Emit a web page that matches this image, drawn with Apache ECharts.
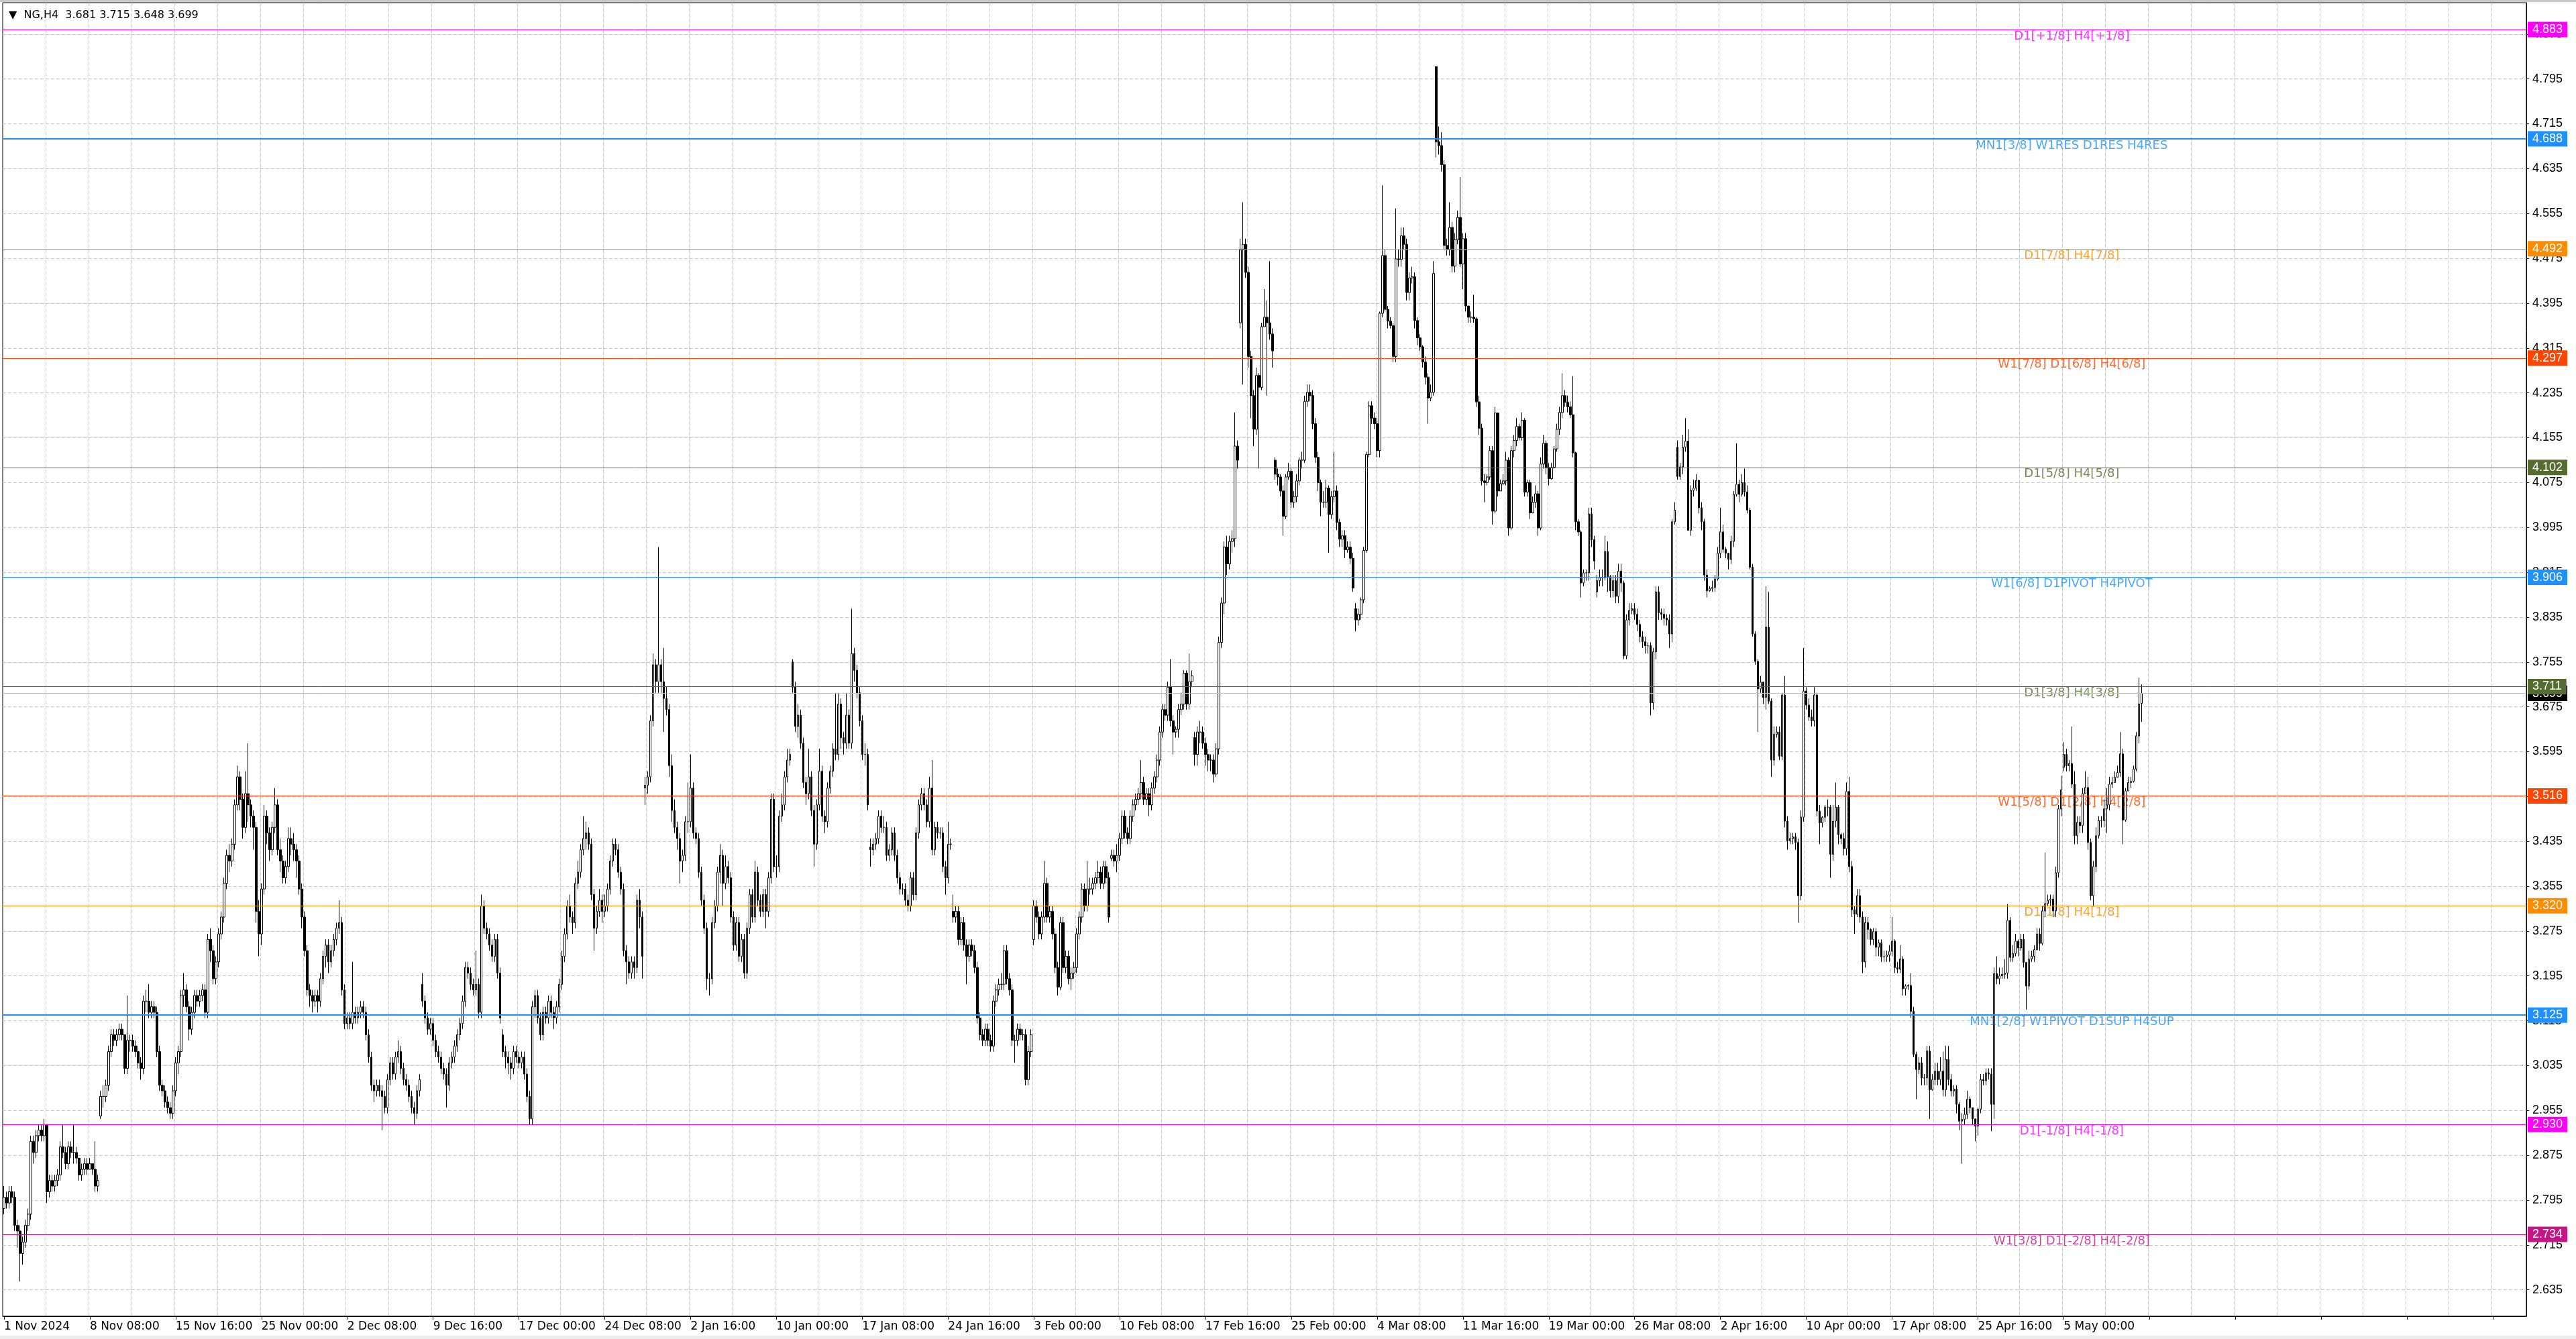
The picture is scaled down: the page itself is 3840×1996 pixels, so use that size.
<!DOCTYPE html>
<html>
<head>
    <meta charset="utf-8">
    <script src="https://cdn.jsdelivr.net/npm/echarts@6/dist/echarts.min.js"></script>
    <style>
        html, body { margin: 0; padding: 0; background: #fff; }
        #chart { width: 3840px; height: 1996px; }
    </style>
</head>
<body>
    <div id="chart"></div>
    <script type="text/javascript">
        // NG H4 bars (close / high / low per bar)
        var closes = [
            2.80,2.79,2.81,2.80,2.75,2.74,2.70,2.72,2.75,2.77,2.90,2.88,2.91,2.92,2.91,2.93,
            2.81,2.83,2.82,2.83,2.84,2.89,2.88,2.86,2.89,2.88,2.88,2.87,2.84,2.85,2.86,2.85,
            2.86,2.85,2.82,2.83,2.98,2.98,3.00,3.06,3.09,3.08,3.09,3.10,3.09,3.03,3.08,3.08,
            3.07,3.06,3.04,3.03,3.15,3.15,3.13,3.14,3.13,3.06,3.00,2.99,2.97,2.96,2.95,2.99,
            3.04,3.06,3.16,3.17,3.14,3.10,3.13,3.16,3.15,3.16,3.17,3.13,3.26,3.24,3.19,3.22,
            3.27,3.30,3.36,3.41,3.40,3.43,3.50,3.55,3.51,3.46,3.52,3.50,3.48,3.46,3.31,3.27,
            3.35,3.48,3.45,3.42,3.46,3.50,3.42,3.40,3.37,3.39,3.44,3.43,3.42,3.40,3.35,3.30,
            3.24,3.17,3.16,3.15,3.16,3.15,3.19,3.23,3.25,3.22,3.24,3.26,3.28,3.29,3.17,3.11,
            3.12,3.11,3.13,3.12,3.13,3.14,3.13,3.09,3.05,3.00,2.99,3.00,2.99,2.98,2.96,3.01,
            3.04,3.02,3.05,3.06,3.03,3.01,3.00,2.98,2.96,2.95,2.99,3.01,3.15,3.12,3.10,3.11,
            3.08,3.06,3.05,3.03,3.02,3.00,3.04,3.05,3.07,3.09,3.11,3.15,3.21,3.20,3.18,3.17,
            3.18,3.13,3.32,3.28,3.27,3.25,3.23,3.26,3.20,3.12,3.06,3.05,3.04,3.03,3.06,3.05,
            3.04,3.05,3.02,2.98,2.94,3.14,3.16,3.12,3.09,3.13,3.12,3.15,3.13,3.12,3.14,3.18,
            3.23,3.27,3.32,3.30,3.29,3.36,3.38,3.42,3.44,3.45,3.43,3.34,3.28,3.31,3.33,3.31,
            3.32,3.35,3.40,3.43,3.42,3.38,3.35,3.24,3.22,3.20,3.22,3.21,3.33,3.30,3.23,3.535,
            3.55,3.65,3.75,3.72,3.75,3.72,3.69,3.67,3.57,3.49,3.46,3.44,3.40,3.41,3.47,3.47,
            3.53,3.45,3.44,3.38,3.33,3.28,3.19,3.19,3.29,3.32,3.38,3.41,3.36,3.39,3.37,3.30,
            3.25,3.29,3.23,3.26,3.20,3.28,3.34,3.30,3.38,3.33,3.31,3.34,3.31,3.37,3.51,3.39,
            3.39,3.48,3.50,3.55,3.58,3.59,3.71,3.64,3.66,3.61,3.54,3.52,3.55,3.49,3.43,3.50,
            3.56,3.48,3.47,3.53,3.56,3.60,3.59,3.68,3.62,3.61,3.66,3.61,3.77,3.74,3.70,3.65,
            3.59,3.59,3.50,3.42,3.43,3.44,3.48,3.46,3.46,3.41,3.42,3.45,3.41,3.37,3.35,3.35,
            3.33,3.32,3.37,3.34,3.45,3.50,3.52,3.50,3.47,3.53,3.42,3.46,3.45,3.45,3.39,3.37,
            3.43,3.43,3.30,3.31,3.26,3.29,3.25,3.23,3.25,3.24,3.21,3.12,3.09,3.08,3.10,3.08,
            3.07,3.15,3.17,3.18,3.18,3.24,3.19,3.17,3.08,3.08,3.10,3.09,3.09,3.01,3.06,3.09,
            3.32,3.30,3.27,3.30,3.36,3.30,3.31,3.27,3.21,3.175,3.29,3.21,3.23,3.19,3.20,3.21,
            3.27,3.30,3.35,3.32,3.35,3.35,3.36,3.37,3.38,3.36,3.39,3.37,3.30,3.41,3.40,3.41,
            3.44,3.48,3.45,3.44,3.48,3.50,3.51,3.52,3.54,3.51,3.52,3.50,3.53,3.55,3.58,3.63,
            3.67,3.66,3.71,3.65,3.63,3.635,3.67,3.68,3.735,3.68,3.72,3.73,3.59,3.63,3.63,3.61,
            3.59,3.58,3.58,3.555,3.60,3.79,3.86,3.96,3.93,3.97,3.975,4.14,4.115,4.49,4.50,4.45,
            4.30,4.23,4.17,4.266,4.245,4.353,4.37,4.36,4.34,4.31,4.09,4.085,4.06,4.015,4.085,4.095,
            4.04,4.05,4.078,4.115,4.115,4.22,4.236,4.23,4.18,4.12,4.075,4.04,4.04,4.065,4.018,4.05,
            4.06,4.004,3.974,3.98,3.955,3.96,3.94,3.887,3.83,3.84,3.866,3.954,4.125,4.212,4.19,4.18,
            4.132,4.377,4.48,4.384,4.363,4.355,4.30,4.474,4.473,4.515,4.50,4.414,4.44,4.442,4.364,4.333,
            4.317,4.29,4.263,4.226,4.236,4.448,4.683,4.676,4.642,4.498,4.49,4.53,4.461,4.508,4.548,4.465,
            4.51,4.39,4.37,4.37,4.367,4.219,4.172,4.078,4.075,4.085,4.132,4.024,4.199,4.06,4.073,4.078,
            4.115,3.994,4.132,4.15,4.175,4.155,4.186,4.058,4.075,4.021,4.04,4.055,3.994,4.108,4.145,4.102,
            4.082,4.102,4.135,4.17,4.20,4.23,4.218,4.21,4.196,4.128,4.005,3.987,3.896,3.914,3.914,4.019,
            3.973,3.935,3.90,3.905,3.905,3.952,3.907,3.882,3.90,3.872,3.917,3.896,3.766,3.83,3.847,3.85,
            3.84,3.822,3.80,3.791,3.784,3.784,3.682,3.773,3.88,3.843,3.84,3.833,3.83,3.805,4.005,4.026,
            4.086,4.103,4.138,4.149,3.99,4.061,4.065,4.079,4.03,4.005,3.91,3.882,3.886,3.888,3.903,3.949,
            3.987,3.956,3.949,3.938,3.97,4.054,4.072,4.054,4.075,4.058,4.026,3.924,3.805,3.756,3.707,3.719,
            3.692,3.817,3.685,3.58,3.626,3.63,3.587,3.696,3.471,3.436,3.44,3.443,3.433,3.338,3.478,3.703,
            3.678,3.657,3.65,3.696,3.489,3.468,3.478,3.496,3.496,3.412,3.471,3.496,3.447,3.44,3.422,3.524,
            3.39,3.313,3.305,3.338,3.30,3.22,3.29,3.278,3.26,3.274,3.246,3.254,3.229,3.229,3.232,3.239,
            3.257,3.21,3.207,3.225,3.172,3.177,3.178,3.132,3.055,3.028,3.04,3.013,3.013,3.061,2.992,3.01,
            3.025,3.01,3.025,2.992,3.046,3.01,2.99,2.993,2.966,2.936,2.939,2.948,2.975,2.96,2.94,2.927,
            2.957,3.01,3.008,3.022,3.02,2.966,3.199,3.19,3.195,3.198,3.20,3.294,3.228,3.235,3.257,3.245,
            3.26,3.219,3.177,3.225,3.23,3.242,3.27,3.253,3.311,3.324,3.33,3.332,3.311,3.379,3.493,3.527,
            3.59,3.57,3.574,3.537,3.445,3.469,3.463,3.52,3.531,3.433,3.338,3.39,3.445,3.472,3.472,3.493,
            3.50,3.537,3.54,3.549,3.558,3.591,3.473,3.525,3.54,3.542,3.564,3.623,3.68,3.699
        ];
        var highs = [
            2.82,2.81,2.82,2.82,2.81,2.76,2.75,2.73,2.76,2.78,2.91,2.91,2.92,2.93,2.93,2.94,
            2.93,2.84,2.84,2.84,2.85,2.90,2.93,2.89,2.90,2.90,2.93,2.89,2.87,2.86,2.87,2.87,
            2.87,2.86,2.90,2.84,2.99,3.00,3.01,3.07,3.10,3.10,3.10,3.11,3.11,3.09,3.16,3.09,
            3.09,3.08,3.07,3.05,3.16,3.17,3.18,3.15,3.15,3.14,3.07,3.01,3.00,2.98,2.97,3.00,
            3.05,3.07,3.17,3.20,3.18,3.15,3.14,3.17,3.17,3.17,3.18,3.18,3.27,3.28,3.25,3.23,
            3.28,3.31,3.37,3.42,3.43,3.44,3.51,3.57,3.56,3.52,3.56,3.61,3.51,3.49,3.47,3.33,
            3.36,3.50,3.49,3.46,3.47,3.53,3.51,3.44,3.41,3.40,3.46,3.46,3.45,3.43,3.41,3.36,
            3.31,3.25,3.18,3.17,3.17,3.17,3.20,3.24,3.26,3.26,3.25,3.27,3.29,3.33,3.30,3.18,
            3.13,3.13,3.22,3.14,3.14,3.15,3.15,3.14,3.10,3.06,3.01,3.01,3.01,3.00,2.99,3.02,
            3.05,3.05,3.06,3.08,3.07,3.04,3.02,3.01,2.99,2.97,3.00,3.02,3.20,3.16,3.13,3.12,
            3.12,3.09,3.07,3.06,3.04,3.03,3.05,3.06,3.08,3.10,3.12,3.16,3.22,3.22,3.21,3.19,
            3.24,3.19,3.34,3.33,3.29,3.28,3.26,3.27,3.27,3.21,3.10,3.07,3.06,3.05,3.07,3.07,
            3.06,3.06,3.06,3.03,2.99,3.15,3.17,3.17,3.13,3.14,3.14,3.16,3.16,3.14,3.15,3.19,
            3.24,3.28,3.33,3.34,3.31,3.37,3.40,3.43,3.48,3.47,3.46,3.44,3.35,3.32,3.35,3.34,
            3.34,3.36,3.41,3.44,3.44,3.43,3.39,3.36,3.25,3.23,3.23,3.23,3.34,3.35,3.31,3.55,
            3.56,3.66,3.77,3.76,3.96,3.76,3.78,3.71,3.68,3.59,3.51,3.47,3.45,3.42,3.48,3.54,
            3.59,3.54,3.46,3.45,3.39,3.34,3.29,3.20,3.30,3.33,3.39,3.43,3.42,3.41,3.40,3.38,
            3.31,3.30,3.30,3.27,3.27,3.29,3.35,3.35,3.40,3.39,3.34,3.35,3.35,3.38,3.52,3.52,
            3.41,3.49,3.52,3.56,3.60,3.60,3.76,3.72,3.68,3.67,3.62,3.55,3.60,3.56,3.50,3.51,
            3.60,3.57,3.49,3.54,3.57,3.61,3.70,3.70,3.69,3.63,3.70,3.67,3.85,3.78,3.75,3.71,
            3.66,3.61,3.60,3.44,3.44,3.45,3.49,3.49,3.48,3.47,3.43,3.46,3.46,3.42,3.38,3.36,
            3.36,3.34,3.38,3.38,3.46,3.51,3.53,3.53,3.51,3.55,3.58,3.47,3.47,3.46,3.46,3.40,
            3.47,3.44,3.34,3.32,3.32,3.30,3.30,3.26,3.26,3.26,3.25,3.22,3.13,3.10,3.11,3.11,
            3.09,3.16,3.18,3.19,3.20,3.25,3.25,3.20,3.18,3.09,3.11,3.11,3.10,3.10,3.07,3.10,
            3.33,3.33,3.31,3.31,3.40,3.37,3.32,3.32,3.28,3.22,3.30,3.30,3.24,3.24,3.21,3.22,
            3.28,3.31,3.36,3.36,3.40,3.37,3.37,3.38,3.40,3.39,3.40,3.40,3.38,3.42,3.42,3.43,
            3.45,3.49,3.49,3.46,3.49,3.51,3.52,3.53,3.58,3.55,3.53,3.53,3.54,3.56,3.59,3.64,
            3.68,3.68,3.72,3.76,3.66,3.64,3.68,3.70,3.74,3.74,3.77,3.74,3.63,3.64,3.65,3.64,
            3.62,3.60,3.59,3.59,3.61,3.80,3.87,3.97,3.98,3.98,3.99,4.20,4.15,4.51,4.575,4.51,
            4.46,4.31,4.24,4.28,4.27,4.36,4.42,4.40,4.47,4.35,4.12,4.10,4.09,4.07,4.09,4.11,
            4.10,4.06,4.09,4.12,4.13,4.23,4.25,4.25,4.24,4.19,4.13,4.08,4.06,4.08,4.07,4.06,
            4.13,4.07,4.01,3.99,3.99,3.97,3.97,3.95,3.86,3.85,3.87,3.96,4.13,4.22,4.22,4.20,
            4.19,4.38,4.605,4.49,4.39,4.37,4.36,4.564,4.49,4.53,4.53,4.51,4.45,4.46,4.45,4.37,
            4.34,4.32,4.30,4.27,4.25,4.47,4.817,4.71,4.70,4.65,4.51,4.575,4.54,4.52,4.56,4.62,
            4.52,4.52,4.39,4.38,4.41,4.37,4.23,4.18,4.09,4.09,4.14,4.14,4.21,4.20,4.08,4.09,
            4.13,4.12,4.14,4.16,4.19,4.18,4.20,4.19,4.08,4.08,4.05,4.07,4.06,4.12,4.16,4.15,
            4.11,4.11,4.14,4.18,4.21,4.27,4.24,4.23,4.22,4.265,4.13,4.01,3.99,3.92,3.92,4.03,
            4.03,3.98,3.91,3.92,3.92,3.98,3.97,3.91,3.91,3.91,3.93,3.93,3.90,3.84,3.86,3.86,
            3.86,3.85,3.83,3.81,3.80,3.79,3.79,3.78,3.89,3.89,3.85,3.85,3.84,3.84,4.01,4.04,
            4.15,4.11,4.16,4.19,4.17,4.07,4.08,4.09,4.08,4.04,4.01,3.92,3.89,3.90,3.91,3.96,
            4.03,4.00,3.96,3.95,3.98,4.06,4.145,4.08,4.09,4.10,4.07,4.03,3.93,3.81,3.76,3.73,
            3.72,3.89,3.88,3.69,3.64,3.64,3.64,3.70,3.73,3.48,3.45,3.45,3.45,3.44,3.49,3.78,
            3.71,3.69,3.67,3.71,3.70,3.50,3.48,3.50,3.51,3.50,3.50,3.54,3.50,3.45,3.45,3.54,
            3.55,3.40,3.32,3.35,3.35,3.31,3.30,3.30,3.28,3.28,3.28,3.26,3.26,3.24,3.24,3.25,
            3.30,3.26,3.22,3.25,3.23,3.18,3.18,3.20,3.14,3.06,3.05,3.05,3.02,3.07,3.07,3.02,
            3.04,3.04,3.05,3.06,3.07,3.07,3.02,3.00,3.00,2.97,2.95,2.96,2.99,2.98,2.96,2.94,
            2.96,3.02,3.02,3.03,3.03,3.03,3.21,3.23,3.21,3.21,3.225,3.323,3.30,3.25,3.27,3.26,
            3.27,3.27,3.22,3.24,3.24,3.25,3.28,3.28,3.32,3.415,3.34,3.34,3.34,3.39,3.50,3.552,
            3.612,3.60,3.58,3.64,3.56,3.48,3.48,3.53,3.56,3.55,3.44,3.40,3.46,3.48,3.48,3.51,
            3.53,3.55,3.55,3.56,3.57,3.63,3.60,3.53,3.55,3.55,3.57,3.63,3.727,3.715
        ];
        var lows = [
            2.77,2.78,2.78,2.79,2.74,2.71,2.65,2.68,2.71,2.74,2.76,2.86,2.87,2.90,2.90,2.90,
            2.79,2.80,2.81,2.81,2.82,2.83,2.87,2.85,2.85,2.87,2.86,2.86,2.83,2.83,2.84,2.84,
            2.85,2.84,2.81,2.81,2.94,2.96,2.97,2.99,3.05,3.07,3.07,3.08,3.08,3.02,3.02,3.06,
            3.06,3.05,3.03,3.01,3.02,3.13,3.12,3.12,3.12,3.05,2.99,2.98,2.96,2.95,2.94,2.94,
            2.98,3.02,3.05,3.14,3.13,3.08,3.09,3.12,3.14,3.14,3.15,3.12,3.12,3.22,3.18,3.18,
            3.21,3.26,3.29,3.35,3.38,3.39,3.42,3.49,3.49,3.44,3.45,3.47,3.46,3.42,3.29,3.23,
            3.25,3.34,3.43,3.40,3.41,3.45,3.41,3.38,3.36,3.36,3.38,3.41,3.40,3.37,3.34,3.28,
            3.23,3.16,3.14,3.13,3.14,3.13,3.14,3.18,3.21,3.20,3.21,3.23,3.25,3.27,3.16,3.10,
            3.10,3.10,3.10,3.11,3.11,3.12,3.12,3.08,3.04,2.99,2.97,2.98,2.98,2.92,2.95,2.95,
            3.00,3.01,3.01,3.04,3.02,3.00,2.99,2.97,2.95,2.93,2.94,2.98,3.14,3.11,3.09,3.09,
            3.07,3.05,3.04,3.02,3.01,2.96,2.99,3.03,3.04,3.06,3.08,3.10,3.14,3.19,3.17,3.16,
            3.16,3.12,3.12,3.27,3.26,3.24,3.22,3.22,3.19,3.11,3.05,3.03,3.02,3.01,3.02,3.04,
            3.03,3.03,3.01,2.97,2.93,2.93,3.12,3.11,3.08,3.08,3.11,3.11,3.12,3.10,3.11,3.13,
            3.17,3.22,3.26,3.29,3.27,3.28,3.35,3.37,3.41,3.42,3.42,3.33,3.24,3.27,3.30,3.29,
            3.30,3.31,3.34,3.39,3.41,3.37,3.34,3.23,3.18,3.19,3.19,3.19,3.20,3.28,3.19,3.50,
            3.52,3.54,3.64,3.70,3.70,3.70,3.63,3.66,3.55,3.47,3.45,3.42,3.36,3.38,3.40,3.45,
            3.46,3.44,3.43,3.37,3.32,3.27,3.17,3.16,3.18,3.28,3.31,3.36,3.32,3.35,3.36,3.29,
            3.24,3.24,3.22,3.22,3.19,3.19,3.27,3.29,3.29,3.32,3.30,3.30,3.28,3.30,3.36,3.38,
            3.37,3.38,3.47,3.49,3.54,3.57,3.70,3.63,3.62,3.60,3.53,3.50,3.51,3.48,3.39,3.42,
            3.49,3.47,3.45,3.46,3.52,3.55,3.58,3.58,3.60,3.59,3.60,3.60,3.60,3.72,3.69,3.64,
            3.58,3.57,3.49,3.39,3.41,3.42,3.43,3.45,3.45,3.40,3.40,3.41,3.40,3.36,3.34,3.34,
            3.32,3.31,3.31,3.33,3.33,3.44,3.49,3.49,3.46,3.46,3.41,3.41,3.44,3.44,3.38,3.34,
            3.36,3.42,3.29,3.29,3.25,3.25,3.24,3.18,3.22,3.23,3.20,3.11,3.08,3.07,3.07,3.07,
            3.06,3.06,3.14,3.16,3.17,3.17,3.18,3.16,3.07,3.04,3.07,3.08,3.08,3.00,3.00,3.05,
            3.25,3.29,3.26,3.26,3.29,3.29,3.29,3.26,3.20,3.16,3.17,3.20,3.20,3.18,3.17,3.19,
            3.20,3.26,3.29,3.31,3.31,3.34,3.34,3.35,3.36,3.35,3.35,3.36,3.29,3.40,3.39,3.38,
            3.40,3.43,3.44,3.43,3.43,3.47,3.49,3.50,3.51,3.50,3.50,3.48,3.49,3.52,3.54,3.57,
            3.62,3.65,3.65,3.64,3.59,3.62,3.62,3.66,3.67,3.67,3.67,3.71,3.57,3.57,3.61,3.60,
            3.57,3.56,3.56,3.54,3.55,3.59,3.78,3.84,3.91,3.92,3.95,3.96,4.10,4.35,4.25,4.44,
            4.28,4.19,4.14,4.16,4.10,4.24,4.36,4.23,4.33,4.28,4.08,4.07,4.05,3.98,4.01,4.08,
            4.03,4.03,4.04,4.07,4.10,4.11,4.21,4.22,4.17,4.11,4.06,4.015,4.03,4.03,3.95,4.01,
            4.04,3.99,3.96,3.96,3.94,3.95,3.93,3.88,3.81,3.82,3.83,3.86,3.95,4.12,4.18,4.17,
            4.12,4.12,4.37,4.38,4.35,4.35,4.29,4.29,4.46,4.46,4.49,4.40,4.40,4.43,4.35,4.32,
            4.31,4.28,4.25,4.18,4.22,4.23,4.655,4.66,4.63,4.49,4.48,4.48,4.45,4.45,4.50,4.46,
            4.42,4.38,4.36,4.36,4.36,4.21,4.16,4.07,4.04,4.07,4.08,4.00,4.02,4.05,4.06,4.07,
            4.07,3.98,3.99,4.12,4.14,4.15,4.15,4.05,4.05,4.01,4.02,4.03,3.98,3.99,4.10,4.09,
            4.07,4.08,4.10,4.13,4.16,4.19,4.21,4.20,4.19,4.12,3.99,3.98,3.87,3.89,3.90,3.90,
            3.96,3.92,3.87,3.89,3.89,3.90,3.88,3.87,3.87,3.86,3.86,3.88,3.76,3.76,3.82,3.84,
            3.83,3.81,3.79,3.78,3.77,3.77,3.66,3.67,3.76,3.83,3.83,3.82,3.82,3.78,3.79,4.00,
            4.08,4.08,4.09,4.13,3.99,3.98,4.05,4.06,4.02,3.99,3.90,3.87,3.88,3.88,3.88,3.90,
            3.94,3.95,3.94,3.92,3.93,3.96,4.05,4.04,4.05,4.05,4.02,3.92,3.80,3.75,3.63,3.70,
            3.68,3.67,3.68,3.55,3.57,3.62,3.58,3.58,3.46,3.42,3.43,3.43,3.42,3.29,3.33,3.47,
            3.67,3.65,3.64,3.64,3.48,3.43,3.46,3.47,3.48,3.37,3.40,3.46,3.43,3.43,3.41,3.41,
            3.38,3.30,3.27,3.30,3.29,3.20,3.21,3.26,3.25,3.25,3.23,3.23,3.22,3.22,3.22,3.22,
            3.23,3.20,3.20,3.20,3.16,3.16,3.17,3.12,3.05,2.975,3.02,3.00,3.00,3.00,2.94,2.99,
            3.00,3.00,3.00,2.98,2.98,3.00,2.98,2.98,2.95,2.92,2.86,2.93,2.94,2.95,2.93,2.90,
            2.91,2.95,3.00,3.00,3.01,2.918,2.94,3.18,3.18,3.19,3.19,3.19,3.22,3.22,3.23,3.23,
            3.24,3.21,3.135,3.17,3.22,3.22,3.24,3.24,3.25,3.30,3.32,3.32,3.30,3.30,3.37,3.48,
            3.56,3.56,3.56,3.53,3.43,3.43,3.45,3.45,3.52,3.42,3.33,3.32,3.38,3.44,3.46,3.46,
            3.45,3.49,3.53,3.54,3.55,3.55,3.43,3.47,3.53,3.53,3.54,3.56,3.61,3.648
        ];
        // bars whose open is not the previous close (weekend gaps): [bar, open]
        var firstOpen = 2.78;
        var gapOpens = [
            [36, 2.945], [156, 3.18], [186, 3.09], [239, 3.53], [294, 3.755], [323, 3.425],
            [354, 3.31], [384, 3.26], [413, 3.405], [444, 3.62], [461, 4.36], [474, 4.115],
            [504, 3.85], [534, 4.817], [594, 3.88], [624, 4.138], [768, 3.567], [797, 3.681]
        ];

        var xLabels = ['1 Nov 2024', '8 Nov 08:00', '15 Nov 16:00', '25 Nov 00:00', '2 Dec 08:00',
            '9 Dec 16:00', '17 Dec 00:00', '24 Dec 08:00', '2 Jan 16:00', '10 Jan 00:00',
            '17 Jan 08:00', '24 Jan 16:00', '3 Feb 00:00', '10 Feb 08:00', '17 Feb 16:00',
            '25 Feb 00:00', '4 Mar 08:00', '11 Mar 16:00', '19 Mar 00:00', '26 Mar 08:00',
            '2 Apr 16:00', '10 Apr 00:00', '17 Apr 08:00', '25 Apr 16:00', '5 May 00:00'];
        var yTicks = [2.635, 2.715, 2.795, 2.875, 2.955, 3.035, 3.115, 3.195, 3.275, 3.355,
            3.435, 3.515, 3.595, 3.675, 3.755, 3.835, 3.915, 3.995, 4.075, 4.155, 4.235,
            4.315, 4.395, 4.475, 4.555, 4.635, 4.715, 4.795, 4.875];

        // Murrey-style levels
        var levelValues = [4.883, 4.688, 4.492, 4.297, 4.102, 3.906, 3.711, 3.516, 3.320, 3.125, 2.930, 2.734];
        var levelNames = ['D1[+1/8] H4[+1/8]', 'MN1[3/8] W1RES D1RES H4RES', 'D1[7/8] H4[7/8]',
            'W1[7/8] D1[6/8] H4[6/8]', 'D1[5/8] H4[5/8]', 'W1[6/8] D1PIVOT H4PIVOT',
            'D1[3/8] H4[3/8]', 'W1[5/8] D1[2/8] H4[2/8]', 'D1[1/8] H4[1/8]',
            'MN1[2/8] W1PIVOT D1SUP H4SUP', 'D1[-1/8] H4[-1/8]', 'W1[3/8] D1[-2/8] H4[-2/8]'];

        var levelColors = ['#ff00ff', '#1e90ff', '#ff8c00', '#ff4500', '#556b2f', '#1e90ff',
            '#556b2f', '#ff4500', '#ff8c00', '#1e90ff', '#ff00ff', '#c71585'];
        var levelWidths = [1, 2, 1, 1, 1, 1, 1, 1, 1, 2, 1, 1];
        var nameSlot = 771;   // bar slot where the level names are centred
        var nSlots = 941;     // bar slots across the chart incl. right shift
        var FONT = 'DejaVu Sans';
        var PRICE_FONT = 'Liberation Sans';

        var opens = closes.map(function (c, i) { return i === 0 ? firstOpen : closes[i - 1]; });
        gapOpens.forEach(function (g) { opens[g[0]] = g[1]; });
        var candles = closes.map(function (c, i) {
            var o = opens[i];
            return [o, c, Math.min(lows[i], o, c), Math.max(highs[i], o, c)];
        });
        var last = candles.length - 1;
        var cats = [];
        for (var i = 0; i < nSlots; i++) cats.push(String(i));

        var titleText = '\u25BC  NG,H4  ' + opens[last].toFixed(3) + ' ' + highs[last].toFixed(3) + ' ' +
            lows[last].toFixed(3) + ' ' + closes[last].toFixed(3);

        var lineData = [{
            yAxis: closes[last],
            lineStyle: { color: '#c0c0c0', width: 1, type: 'solid' },
            label: { backgroundColor: '#000' }
        }];
        levelValues.forEach(function (v, i) {
            lineData.push({
                yAxis: v,
                lineStyle: { color: levelColors[i], width: levelWidths[i], type: 'solid' },
                label: { backgroundColor: levelColors[i] }
            });
        });

        var option = {
            animation: false,
            backgroundColor: '#fff',
            title: {
                text: titleText, left: 8, top: 10,
                textStyle: { fontSize: 16, fontWeight: 'normal', fontFamily: FONT, color: '#000' }
            },
            graphic: [
                { type: 'rect', left: 0, top: 0, shape: { width: 3840, height: 3 }, style: { fill: '#c8c8c8' } },
                { type: 'rect', left: 0, bottom: 0, shape: { width: 3840, height: 5 }, style: { fill: '#ececec' } }
            ],
            grid: {
                left: 4, right: 74, top: 4, bottom: 34,
                show: true, borderColor: '#000', borderWidth: 1, backgroundColor: '#fff',
                containLabel: false, outerBoundsMode: 'none'
            },
            xAxis: {
                type: 'category', data: cats, boundaryGap: true,
                axisLine: { lineStyle: { color: '#000', width: 1 } },
                axisTick: {
                    show: true, alignWithLabel: true, length: 5,
                    interval: function (i) { return i % 32 === 0; },
                    lineStyle: { color: '#000' }
                },
                axisLabel: {
                    interval: function (i) { return i % 32 === 0 && i / 32 < xLabels.length; },
                    formatter: function (v, i) { return xLabels[i / 32] || ''; },
                    align: 'left', color: '#000', fontSize: 17, fontFamily: FONT, margin: 7
                },
                splitLine: {
                    show: true,
                    interval: function (i) { return i % 16 === 0 && i > 0; },
                    lineStyle: { color: '#c8c8c8', type: [5, 3], width: 1 }
                }
            },
            yAxis: {
                type: 'value', position: 'right', min: 2.588, max: 4.931, scale: true,
                axisLine: { show: true, lineStyle: { color: '#000', width: 1 } },
                axisTick: { show: true, customValues: yTicks, length: 4, lineStyle: { color: '#000' } },
                axisLabel: {
                    customValues: yTicks,
                    formatter: function (v) { return Number(v).toFixed(3); },
                    color: '#000', fontSize: 18, fontFamily: PRICE_FONT, margin: 9
                },
                splitLine: { show: true, lineStyle: { color: '#c8c8c8', type: [5, 3], width: 1 } }
            },
            series: [
                {
                    name: 'levels',
                    type: 'scatter',
                    z: 1,
                    silent: true,
                    symbolSize: 0,
                    data: levelValues.map(function (v, i) {
                        return { value: [nameSlot, v], label: { color: levelColors[i] } };
                    }),
                    label: {
                        show: true, position: 'bottom', distance: 1,
                        formatter: function (p) { return levelNames[p.dataIndex]; },
                        fontSize: 18, fontFamily: FONT
                    },
                    markLine: {
                        silent: true,
                        symbol: ['none', 'none'],
                        animation: false,
                        precision: 3,
                        label: {
                            show: true, position: 'end', distance: 2,
                            formatter: function (p) { return Number(p.value).toFixed(3); },
                            color: '#fff', fontSize: 18, fontFamily: PRICE_FONT,
                            lineHeight: 18, padding: [3, 7, 2, 7]
                        },
                        data: lineData
                    }
                },
                {
                    name: 'NG,H4',
                    type: 'candlestick',
                    z: 3,
                    silent: true,
                    large: false,
                    barWidth: 3,
                    data: candles,
                    itemStyle: {
                        color: '#ffffff', color0: '#000000',
                        borderColor: '#000000', borderColor0: '#000000', borderColorDoji: '#000000',
                        borderWidth: 1
                    }
                }
            ]
        };

        var myChart = echarts.init(document.getElementById('chart'));
        myChart.setOption(option);
    </script>
</body>
</html>
